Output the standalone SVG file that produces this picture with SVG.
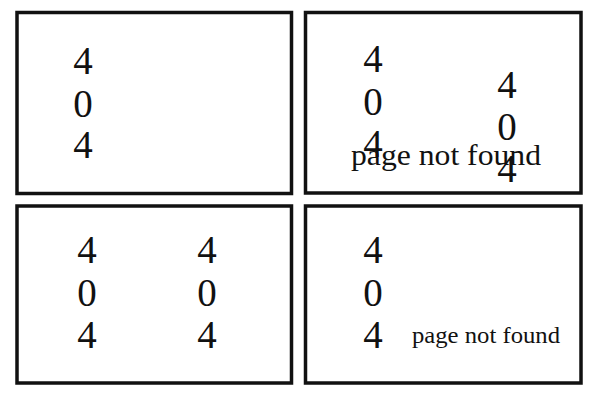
<svg xmlns="http://www.w3.org/2000/svg" width="600" height="400" viewBox="0 0 600 400">
<style>
.panel{fill:#ffffff;stroke:#111111;stroke-width:3.5}
.d{font-family:"Liberation Serif","Times New Roman",serif;font-size:39px;fill:#111111;text-anchor:middle}
.t{font-family:"Liberation Serif","Times New Roman",serif;fill:#111111}
</style>
<rect width="600" height="400" fill="#ffffff"/>
<g id="panel1">
<rect class="panel" x="17" y="12.5" width="274.5" height="181"/>
<text class="d" x="83" y="74">4</text>
<text class="d" x="83" y="117">0</text>
<text class="d" x="83" y="158">4</text>
</g>
<g id="panel2">
<rect class="panel" x="305.5" y="12.5" width="275.5" height="180.5"/>
<text class="d" x="373" y="72">4</text>
<text class="d" x="373" y="115">0</text>
<text class="d" x="373" y="157">4</text>
<text class="d" x="507" y="98">4</text>
<text class="d" x="507" y="140">0</text>
<text class="d" x="507" y="182">4</text>
<text class="t" x="351" y="165" font-size="29" textLength="190" lengthAdjust="spacingAndGlyphs">page not found</text>
</g>
<g id="panel3">
<rect class="panel" x="17" y="206" width="274.5" height="177"/>
<text class="d" x="87" y="263">4</text>
<text class="d" x="87" y="306">0</text>
<text class="d" x="87" y="348">4</text>
<text class="d" x="207" y="263">4</text>
<text class="d" x="207" y="306">0</text>
<text class="d" x="207" y="348">4</text>
</g>
<g id="panel4">
<rect class="panel" x="305.5" y="206" width="275.5" height="177"/>
<text class="d" x="373" y="263">4</text>
<text class="d" x="373" y="306">0</text>
<text class="d" x="373" y="348">4</text>
<text class="t" x="412" y="343" font-size="24" textLength="148" lengthAdjust="spacingAndGlyphs">page not found</text>
</g>
</svg>
